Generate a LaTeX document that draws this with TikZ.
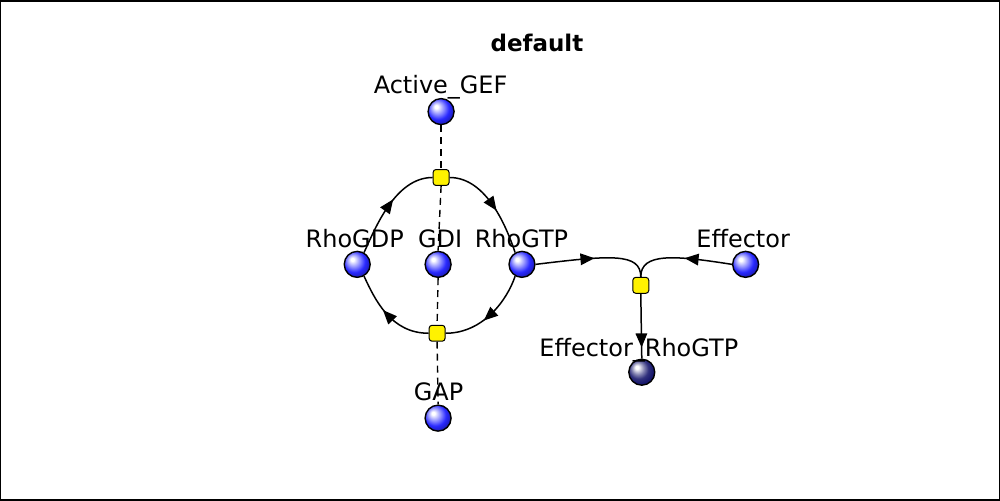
\documentclass[tikz,border=0pt]{standalone}
\usepackage{fontspec}
\setmainfont{DejaVu Sans}
\usetikzlibrary{decorations.markings}
\definecolor{ballblue}{RGB}{40,40,255}
\definecolor{ballnavy}{RGB}{25,25,110}
\pgfdeclareradialshading{blueball}{\pgfpoint{-10bp}{10bp}}{color(0bp)=(white); color(3bp)=(white); color(13bp)=(ballblue!55!white); color(21bp)=(ballblue); color(28bp)=(ballblue!75!black); color(50bp)=(ballblue!50!black)}
\pgfdeclareradialshading{navyball}{\pgfpoint{-10bp}{10bp}}{color(0bp)=(white); color(3bp)=(white); color(12bp)=(ballnavy!55!white); color(19bp)=(ballnavy!90!white); color(26bp)=(ballnavy); color(50bp)=(ballnavy!70!black)}
\tikzset{
  species/.style={circle,minimum size=26pt,inner sep=0pt,shading=#1,draw=black,line width=1.4pt},
  species/.default=blueball,
  rxn/.style={rectangle,rounded corners=3pt,minimum size=16pt,inner sep=0pt,fill=yellow,draw=black,line width=1pt},
  lbl/.style={anchor=base,font=\fontsize{24}{27}\selectfont,inner sep=0pt},
  tri/.style={fill=black,draw=none},
  flow/.style={line width=1.5pt,decoration={markings,mark=at position #1 with {\fill[tri] (7,0) -- (-7,6) -- (-7,-6) -- cycle;}},postaction=decorate},
  flow/.default=0.5,
  modif/.style={line width=1.4pt,dash pattern=on 7pt off 5pt}
}
\begin{document}
\begin{tikzpicture}[x=1pt,y=-1pt]
\draw[line width=1.5pt,fill=white] (0,0) rectangle (1000,500);
\node[anchor=base,inner sep=0pt,font=\bfseries\fontsize{23}{27}\selectfont] (title) at (537,51) {default};
% species
\node[species] (gef) at (441,111) {};
\node[species] (rgdp) at (357,264) {};
\node[species] (gdi) at (438,264) {};
\node[species] (rgtp) at (522,264) {};
\node[species] (eff) at (746,264) {};
\node[species=navyball] (erg) at (642,372) {};
\node[species] (gap) at (438,418) {};
% labels
\node[lbl] (lgef) at (440.5,93) {Active\_GEF};
\node[lbl] (lrgdp) at (354.5,247) {RhoGDP};
\node[lbl] (lgdi) at (440,247) {GDI};
\node[lbl] (lrgtp) at (521.5,247) {RhoGTP};
\node[lbl] (leff) at (743.5,247) {Effector};
\node[lbl] (lerg) at (639,356) {Effector\_RhoGTP};
\node[lbl] (lgap) at (438.5,400) {GAP};
% reactions
\node[rxn] (r1) at (441,177) {};
\node[rxn] (r2) at (437,333) {};
\node[rxn] (r3) at (641,285) {};
% modifiers
\draw[modif] (gef.south) -- (r1.north);
\draw[modif] (r1.south) -- (gdi.north);
\draw[modif] (gdi.south) -- (r2.north);
\draw[modif] (r2.south) -- (gap.north);
% flows
\draw[flow] (rgdp.60) .. controls (375,228) and (395,177) .. (r1.west);
\draw[flow] (r1.east) .. controls (487,177) and (507,228) .. (rgtp.120);
\draw[flow] (rgtp.-120) .. controls (507,300) and (483,333) .. (r2.east);
\draw[flow] (r2.west) .. controls (391,333) and (375,300) .. (rgdp.-60);
\draw[flow=0.45] (rgtp.east) .. controls (610,255) and (641,252) .. (r3.north);
\draw[flow=0.4] (eff.west) .. controls (675,255) and (641,252) .. (r3.north);
\draw[flow=0.72] (r3.south) -- (erg.north);
\end{tikzpicture}
\end{document}
